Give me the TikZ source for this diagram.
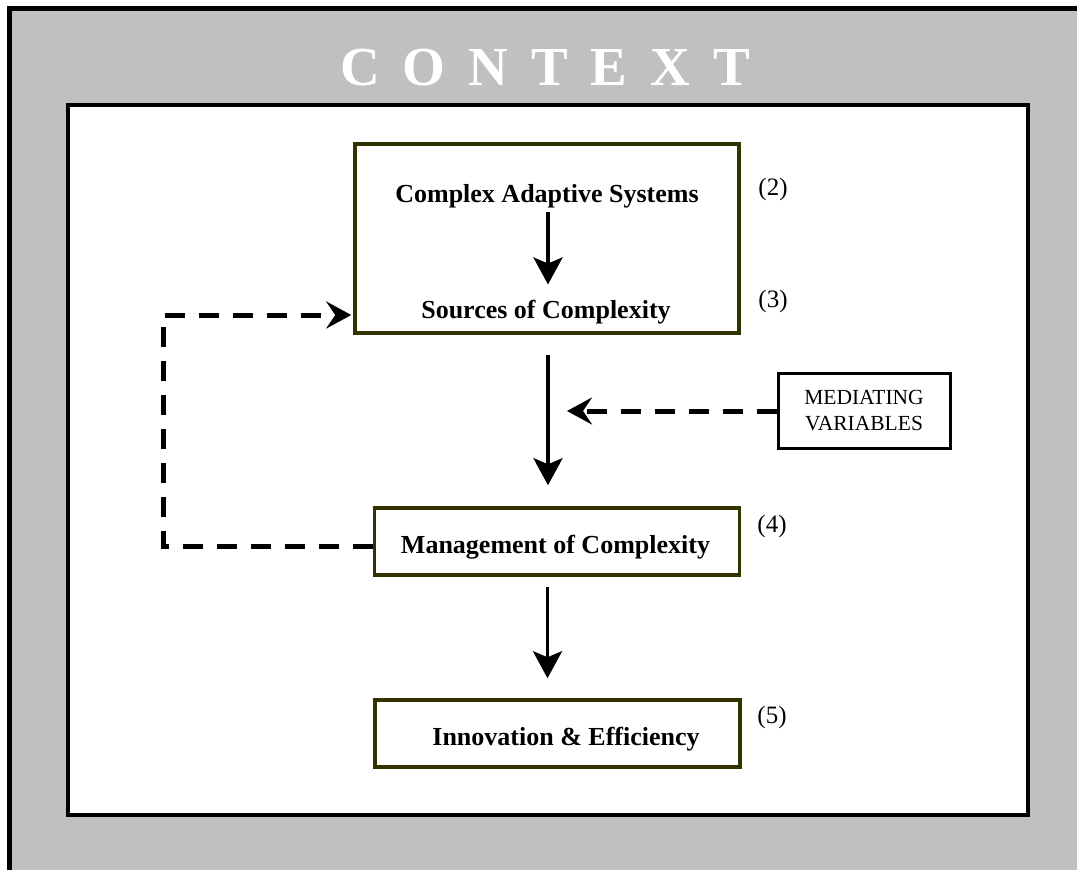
\documentclass[tikz,border=0pt]{standalone}
\usepackage{fontspec}
\setmainfont{Liberation Serif}
\usetikzlibrary{arrows.meta}
\definecolor{boxline}{RGB}{51,51,0}
\definecolor{ctxgray}{RGB}{192,192,192}

\begin{document}
\begin{tikzpicture}[x=1pt,y=-1pt,
        stage/.style={draw=boxline,line width=3.5pt,fill=white,inner sep=0pt},
        heading/.style={font=\fontsize{26}{30}\selectfont\bfseries,anchor=base,inner sep=0pt},
        numtag/.style={font=\fontsize{25}{30}\selectfont,anchor=base,inner sep=0pt},
        flow/.style={line width=3.8pt,-{Stealth[length=27pt,width=29pt,inset=6pt]}},
        feedback/.style={line width=5pt,dash pattern=on 20pt off 14pt,-{Stealth[length=25pt,width=27pt,inset=9pt]}}]
    \useasboundingbox (0,0) rectangle (1077,870);
    \fill[ctxgray] (9.5,8) rectangle (1077,870);
    \draw[line width=5pt] (9.5,870) -- (9.5,8) -- (1077,8);
    \draw[line width=4pt,fill=white] (67.5,105) rectangle (1027.5,815);
    \node[font=\fontsize{55}{60}\selectfont\bfseries,text=white,anchor=base,inner sep=0pt] (ctx) at (545,85)
        {C\hspace{23pt}O\hspace{23pt}N\hspace{23pt}T\hspace{23pt}E\hspace{23pt}X\hspace{23pt}T};

    \node[stage,minimum width=384pt,minimum height=189pt] (sys) at (547,238.5) {};
    \node[stage,minimum width=365pt,minimum height=67pt] (mgmt) at (557,541.5) {};
    \node[stage,minimum width=365pt,minimum height=67pt] (innov) at (557.5,733.5) {};
    \node[draw,line width=3pt,fill=white,inner sep=0pt,minimum width=172pt,minimum height=75.5pt,
        align=center,font=\fontsize{21.5}{26}\selectfont] (med) at (864,411) {MEDIATING\\VARIABLES};

    \node[heading] (cas) at (547,202) {Complex Adaptive Systems};
    \node[heading] (soc) at (546,318) {Sources of Complexity};
    \node[heading] (moc) at (555.5,553) {Management of Complexity};
    \node[heading] (ie) at (566,745) {Innovation \& Efficiency};

    \node[numtag] (n2) at (773,195) {(2)};
    \node[numtag] (n3) at (773,307) {(3)};
    \node[numtag] (n4) at (772,532) {(4)};
    \node[numtag] (n5) at (772,723) {(5)};

    \coordinate (join) at (567,411);
    \coordinate (fbl) at (163.5,546);
    \coordinate (fbt) at (163.5,315);

    \draw[flow,shorten <=4pt,shorten >=15pt] (cas.south -| 548,0) -- (soc.north -| 548,0);
    \draw[flow,shorten <=20pt,shorten >=21pt] (sys.south -| 548,0) -- (mgmt.north -| 548,0);
    \draw[flow,shorten <=10pt,shorten >=20pt] (mgmt.south -| 547.5,0) -- (innov.north -| 547.5,0);
    \draw[feedback] (med.west) -- (join);
    \draw[feedback,shorten >=2pt] (mgmt.west |- fbl) -- (fbl) -- (fbt) -- (sys.west |- fbt);
\end{tikzpicture}
\end{document}
